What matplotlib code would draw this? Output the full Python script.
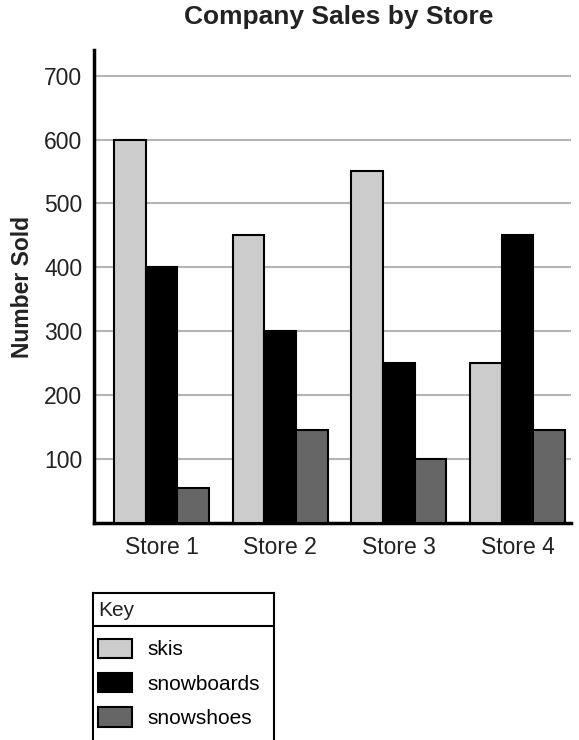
import numpy as np
from matplotlib import pyplot as plt

plt.rcParams['font.family'] = ['Liberation Sans', 'DejaVu Sans']

# data
stores = ['Store 1', 'Store 2', 'Store 3', 'Store 4']
products = ['skis', 'snowboards', 'snowshoes']
skis = [600, 450, 550, 250]
snowboards = [400, 300, 250, 450]
snowshoes = [55, 145, 100, 145]
y_ticks = [100, 200, 300, 400, 500, 600, 700]

colors = ['#cccccc', '#000000', '#666666']
series = [skis, snowboards, snowshoes]

fig = plt.figure(figsize=(5.79, 7.40), dpi=100)
ax = fig.add_axes([0.1623, 0.2932, 0.8238, 0.6392])

x = np.arange(len(stores))
width = 0.267
bars = []
for i, (vals, col) in enumerate(zip(series, colors)):
    b = ax.bar(x + (i - 1) * width, vals, width, color=col, edgecolor='black',
               linewidth=1.5, label=products[i], zorder=3)
    bars.append(b)

ax.set_xlim(-0.569, 3.45)
ax.set_ylim(0, 740)
ax.set_yticks(y_ticks)
ax.set_xticks(x)
ax.set_xticklabels(stores)
ax.yaxis.grid(True, color='#b5b5b5', linewidth=1.5, zorder=0)
ax.set_axisbelow(True)
ax.tick_params(axis='both', length=0, labelsize=16.5, colors='#222222')
ax.tick_params(axis='y', pad=8.5)
ax.tick_params(axis='x', pad=9)
for s in ['top', 'right']:
    ax.spines[s].set_visible(False)
for s in ['left', 'bottom']:
    ax.spines[s].set_linewidth(2.5)
ax.set_ylabel('Number Sold', fontsize=16.5, fontweight='bold', labelpad=7,
              color='#222222')

fig.text(0.5855, 0.977, 'Company Sales by Store', fontsize=19, fontweight='bold',
         ha='center', va='center', color='#222222')

# key box
kax = fig.add_axes([0.1606, 0.0, 0.3126, 0.1986])
kax.set_xticks([])
kax.set_yticks([])
kax.spines['bottom'].set_visible(False)
for s in ['top', 'left', 'right']:
    kax.spines[s].set_linewidth(1.5)
kax.axhline(0.7755, color='black', linewidth=1.5)
kax.text(0.028, 0.884, 'Key', fontsize=15, va='center', ha='left', color='#222222',
         transform=kax.transAxes)
kax.legend(handles=bars, labels=products, loc='upper left',
           bbox_to_anchor=(0.028, 0.69), frameon=False, fontsize=15,
           handlelength=1.63, handleheight=1.06, handletextpad=0.75,
           labelspacing=0.65, borderaxespad=0, borderpad=0)

fig.savefig('out.png', dpi=100)
